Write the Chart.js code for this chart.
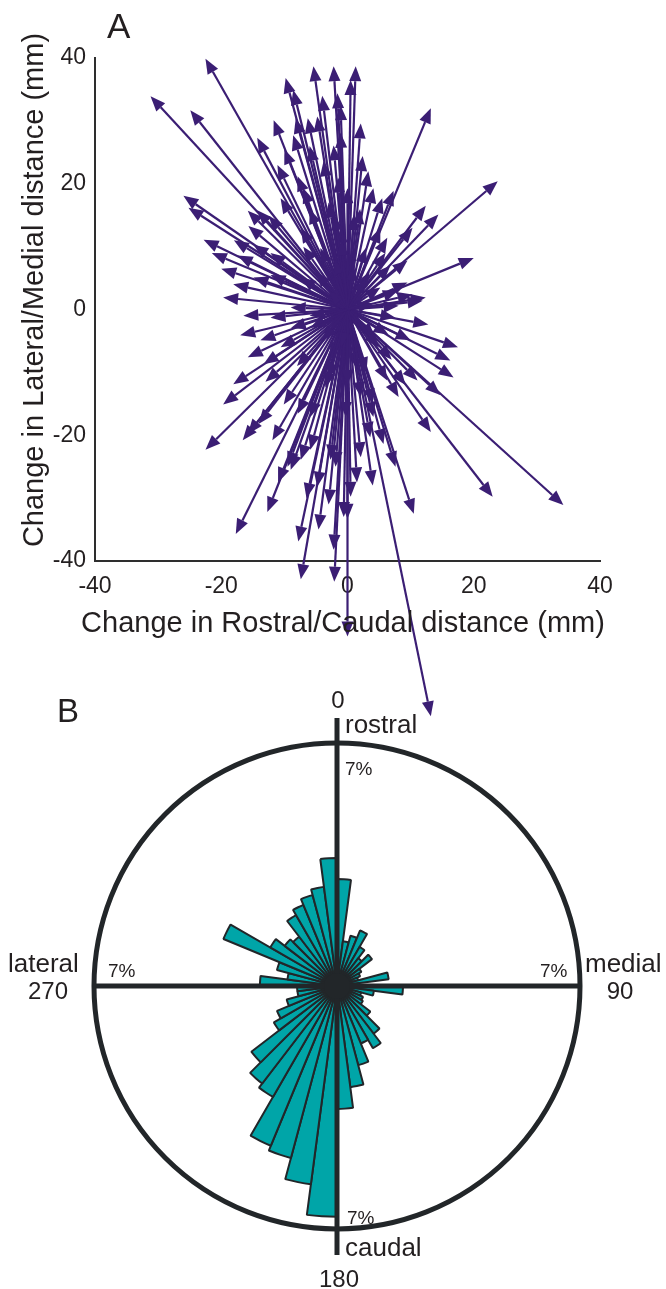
<!DOCTYPE html>
<html>
<head>
<meta charset="utf-8">
<script src="https://cdn.jsdelivr.net/npm/chart.js@4.4.0/dist/chart.umd.min.js"></script>
<style>
  body { margin: 0; background: #fff; }
  #wrap { position: relative; width: 666px; height: 1289px; }
  canvas { position: absolute; left: 0; }
  #canvasA { top: 0; z-index: 2; }
  #canvasB { top: 680px; z-index: 1; }
</style>
</head>
<body>
<div id="wrap">
  <canvas id="canvasA" width="666" height="740"></canvas>
  <canvas id="canvasB" width="666" height="609"></canvas>
</div>
<script>
// change vectors (mm), every arrow starts at the origin
var moveX = [
  -22.5, -31.2, -24.9, -9.8, -8.6, -5.4, -2.2, -1.6, -11.7, -8.2, -6.3, -4.8, -8.6, -14.3, -2.2, -11.1, -7.9,
  -10.6, -26.0, -25.2, -15.8, -14.3, -15.7, -12.5, -22.8, -17.4, -14.9, -14.9, -18.1, -19.7, -12.2, -7.0, -3.8, 0.5,
  1.3, -1.1, 2.1, -1.1, 2.4, 3.3, 4.1, 13.2, 5.5, 7.3, 23.8, 12.4, 14.4, 10.3, 20.0, 9.5, 6.8, 9.5, 10.3, 12.4, 8.1, 0.0, 6.3,
  11.9, 12.8, 16.3, 16.8, 14.7, 10.0, 11.1, 13.2, 23.0, 34.2, 10.5, 7.6, 5.7, 2.1, 0.0, 8.1, 6.3, 9.2, 4.1, 3.6,
  13.2, 0.0, -7.4, -2.1,
  -17.0, -15.8, -18.1, -19.7, -22.5, -15.8, -16.6, -14.1, -11.9, -17.7, -12.7, -9.0, -7.4, -7.8, -4.6, -2.2, -4.8,
  -0.6, -10.1, -13.3, -13.8, -12.2, -9.5, -7.9, -5.9, -2.7,
  -4.3, 2.9, -7.4, 5.2, -5.9, 4.4, -2.7, 1.3, -9.0, 7.6, -1.1, -3.5, 2.1, -10.6, -12.2, -7.4, 5.2, -0.3, -5.9, -1.9, 0.5,
  -16.5, -13.0, -11.0, -6.5, -3.0, 1.5, 4.0, 17.5, 6.5, 3.5, -3.0, -6.0, -10.0, -4.0, -1.5, 1.0, -20.0, -21.5, -18.0,
  -2.0, 1.0, -5.0, 3.0, -3.0, 4.0, -6.0, 2.0, -4.0, 5.0, -1.0, 3.0, -7.0, 6.0, -2.0, 2.0, -8.0, 7.0, -3.0, 0.0,
  -6.0, 4.0, -9.0, 8.0, -1.0
]
var moveY = [
  39.9, 33.9, 31.7, 36.8, 34.9, 38.7, 38.7, 34.4, 30.1, 30.4, 30.4, 30.7, 27.7, 27.3, 26.1, 23.0, 21.2,
  17.7, 18.1, 16.2, 15.7, 15.8, 13.3, 14.9, 11.1, 8.6, 10.3, 5.1, 4.0, 1.9, 5.5, 19.3, 23.6, 36.5,
  38.7, 32.5, 29.6, 28.1, 24.4, 22.0, 19.3, 32.0, 17.7, 18.9, 20.4, 16.5, 15.1, 13.0, 8.2, 7.8, 7.0, 4.3, 2.4, 1.9, 0.6, 19.3, 11.4,
  1.4, -2.4, -8.1, -10.8, -13.6, -4.9, -11.3, -19.5, -29.8, -31.1, -32.5, -25.0, -21.4, -23.5, -33.3, -13.9, -11.3, -12.0, -17.1, -20.3,
  -64.7, -52.0, -42.9, -43.3,
  -4.1, -7.6, -11.9, -15.1, -22.3, -19.8, -20.8, -18.2, -20.8, -35.7, -32.2, -25.5, -23.9, -36.9, -35.0, -38.2, -28.2,
  -33.0, -15.1, -8.7, -4.9, -1.3, -25.0, -16.6, -22.3, -23.9,
  9.8, 9.8, 5.1, 3.5, -2.9, -4.4, -7.6, -9.2, 0.3, -1.3, 13.0, -12.4, -13.9, -6.0, 9.0, 13.0, 13.0, -17.1, -17.1, -25.0, -29.8,
  -1.0, -11.5, -27.5, -30.0, -31.0, -27.5, -28.0, -6.0, -4.0, 6.0, 17.0, 26.0, 25.5, 34.0, 21.0, 15.0, 6.5, 9.0, 11.0,
  8.0, 7.0, 6.0, 5.0, 3.0, 1.0, -1.0, -3.0, -5.0, -6.0, -6.0, -10.0, 10.0, 9.0, 15.0, 16.0, -9.0, -8.0, -11.0, -12.0,
  16.0, -15.0, -3.0, 3.0, 11.0
]

// direction histogram, 48 bins of 7.5 deg clockwise from rostral, in percent
var roseBins = []
for (var b = 0; b < 48; b++) roseBins.push((b * 7.5) + '°')
var rosePct = [
  3.08, 1.30, 1.50, 1.73, 1.30, 1.01, 1.27, 0.81, 0.72, 0.63, 1.50, 0.63,
  1.90, 1.07, 0.72, 0.81, 0.86, 1.21, 1.73, 2.07, 1.79, 2.36, 2.94, 3.54,
  6.65, 5.76, 5.13, 4.98, 3.69, 3.54, 3.11, 2.10, 1.87, 1.50, 1.15, 1.15,
  2.22, 1.44, 1.79, 3.54, 2.22, 1.90, 1.79, 2.36, 2.53, 2.71, 2.88, 3.69
]
var roseMax = 7

var arrowColor = '#3b1e74'
var inkColor = '#231f20'
var fontFam = "'Liberation Sans', Arial, sans-serif"
Chart.defaults.font.family = fontFam
Chart.defaults.color = inkColor

var arrowPlugin = {
  id: 'arrows',
  afterDatasetsDraw: function(chart) {
    var ctx = chart.ctx
    var xs = chart.scales.x, ys = chart.scales.y
    var x0 = xs.getPixelForValue(0), y0 = ys.getPixelForValue(0)
    ctx.save()
    ctx.strokeStyle = arrowColor
    ctx.fillStyle = arrowColor
    ctx.lineWidth = 2.2
    chart.data.datasets[0].data.forEach(function(p) {
      var x1 = xs.getPixelForValue(p.x), y1 = ys.getPixelForValue(p.y)
      var a = Math.atan2(y1 - y0, x1 - x0)
      var hl = 15, hw = 6
      var bx = x1 - hl * Math.cos(a), by = y1 - hl * Math.sin(a)
      ctx.beginPath()
      ctx.moveTo(x0, y0)
      ctx.lineTo(bx, by)
      ctx.stroke()
      ctx.beginPath()
      ctx.moveTo(x1, y1)
      ctx.lineTo(bx - hw * Math.sin(a), by + hw * Math.cos(a))
      ctx.lineTo(bx + hw * Math.sin(a), by - hw * Math.cos(a))
      ctx.closePath()
      ctx.fill()
    })
    ctx.restore()
  },
  afterDraw: function(chart) {
    var ctx = chart.ctx
    ctx.save()
    ctx.fillStyle = inkColor
    ctx.font = '35px ' + fontFam
    ctx.textAlign = 'left'
    ctx.textBaseline = 'alphabetic'
    ctx.fillText('A', 107, 38)
    ctx.font = '29px ' + fontFam
    ctx.textAlign = 'center'
    ctx.fillText('Change in Rostral/Caudal distance (mm)', 343, 632)
    ctx.translate(43, 290)
    ctx.rotate(-Math.PI / 2)
    ctx.fillText('Change in Lateral/Medial distance (mm)', 0, 0)
    ctx.restore()
  }
}

var axisOpts = {
  min: -40,
  max: 40,
  ticks: { stepSize: 20, font: { size: 23 }, color: inkColor, padding: 9 },
  grid: { display: false, drawTicks: false },
  border: { display: true, color: '#2e2e2e', width: 2 }
}

var tips = moveX.map(function(v, i) { return { x: v, y: moveY[i] } })

new Chart(document.getElementById('canvasA'), {
  type: 'scatter',
  data: { datasets: [{ data: tips, pointRadius: 0 }] },
  options: {
    responsive: false,
    animation: false,
    layout: { padding: { left: 0, top: 58, right: 66, bottom: 139 } },
    plugins: { legend: { display: false }, tooltip: { enabled: false } },
    scales: {
      x: Object.assign({}, axisOpts, {
        ticks: Object.assign({}, axisOpts.ticks, { padding: 12 }),
        afterFit: function(s) { s.height = 40 }
      }),
      y: Object.assign({}, axisOpts, { afterFit: function(s) { s.width = 95 } })
    }
  },
  plugins: [arrowPlugin]
})

var rosePlugin = {
  id: 'roseFrame',
  afterDatasetsDraw: function(chart) {
    var ctx = chart.ctx
    var r = chart.scales.r
    var xc = r.xCenter, yc = r.yCenter
    var rad = r.getDistanceFromCenterForValue(roseMax)
    ctx.save()
    ctx.strokeStyle = '#222629'
    ctx.lineWidth = 5
    ctx.beginPath()
    ctx.arc(xc, yc, rad, 0, Math.PI * 2)
    ctx.stroke()
    ctx.beginPath()
    ctx.moveTo(xc, yc - rad - 25)
    ctx.lineTo(xc, yc + rad + 26)
    ctx.moveTo(xc - rad - 2, yc)
    ctx.lineTo(xc + rad + 2, yc)
    ctx.stroke()
    // dark hub where the wedge outlines meet
    ctx.fillStyle = '#222629'
    ctx.beginPath()
    ctx.arc(xc, yc, 13, 0, Math.PI * 2)
    ctx.fill()

    ctx.fillStyle = inkColor
    ctx.textBaseline = 'alphabetic'
    ctx.font = '33px ' + fontFam
    ctx.textAlign = 'left'
    ctx.fillText('B', xc - 280, yc - 264)

    ctx.font = '26px ' + fontFam
    ctx.fillText('rostral', xc + 8, yc - 253)
    ctx.fillText('caudal', xc + 8, yc + 270)
    ctx.fillText('lateral', xc - 329, yc - 14)
    ctx.fillText('medial', xc + 248, yc - 14)

    ctx.font = '24px ' + fontFam
    ctx.textAlign = 'center'
    ctx.fillText('0', xc + 1, yc - 278)
    ctx.fillText('90', xc + 283, yc + 13)
    ctx.fillText('180', xc + 2, yc + 301)
    ctx.fillText('270', xc - 289, yc + 13)

    ctx.font = '19px ' + fontFam
    ctx.textAlign = 'left'
    var lbl = roseMax + '%'
    ctx.fillText(lbl, xc + 8, yc - 211)
    ctx.fillText(lbl, xc + 10, yc + 238)
    ctx.fillText(lbl, xc - 229, yc - 9)
    ctx.fillText(lbl, xc + 203, yc - 9)
    ctx.restore()
  }
}

new Chart(document.getElementById('canvasB'), {
  type: 'polarArea',
  data: {
    labels: roseBins,
    datasets: [{
      data: rosePct,
      backgroundColor: '#00a5a8',
      borderColor: '#222629',
      borderWidth: 2
    }]
  },
  options: {
    responsive: false,
    animation: false,
    layout: { padding: { left: 94, right: 86, top: 63, bottom: 60 } },
    plugins: { legend: { display: false }, tooltip: { enabled: false } },
    scales: {
      r: { min: 0, max: roseMax, startAngle: 0, display: false }
    }
  },
  plugins: [rosePlugin]
})
</script>
</body>
</html>
